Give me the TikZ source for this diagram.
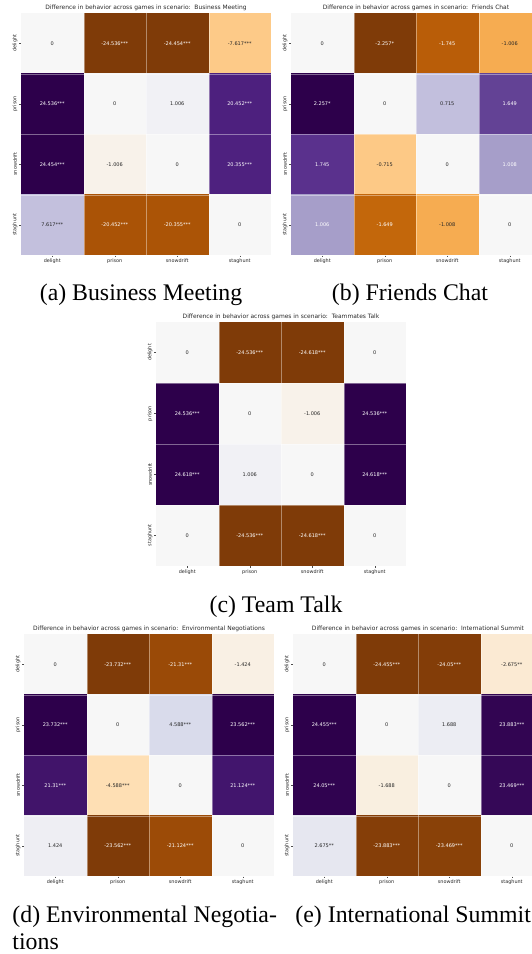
\documentclass[tikz,border=0pt]{standalone}
\usepackage{fontspec}
\setmainfont{Liberation Serif}
\newfontfamily\plotfont{DejaVu Sans}
\usetikzlibrary{positioning}

% PuOr colour steps
\definecolor{po0}{HTML}{7F3B08}
\definecolor{po1}{HTML}{B35806}
\definecolor{po2}{HTML}{E08214}
\definecolor{po3}{HTML}{FDB863}
\definecolor{po4}{HTML}{FEE0B6}
\definecolor{po5}{HTML}{F7F7F7}
\definecolor{po6}{HTML}{D8DAEB}
\definecolor{po7}{HTML}{B2ABD2}
\definecolor{po8}{HTML}{8073AC}
\definecolor{po9}{HTML}{542788}
\definecolor{po10}{HTML}{2D004B}
\colorlet{lt}{white}
\colorlet{dk}{black!85}

\tikzset{
  cell/.style={rectangle, inner sep=0pt, minimum width=26.25pt, minimum height=25.5pt,
    font=\plotfont\fontsize{2.1}{2.5}\selectfont},
  gridline/.style={draw=white, draw opacity=0.4, line width=0.35pt},
  title/.style={anchor=base, inner sep=0pt, text=dk, font=\plotfont\fontsize{2.5}{3}\selectfont},
  tick/.style={inner sep=0pt, text=dk, font=\plotfont\fontsize{2.05}{2.5}\selectfont},
  tickmark/.style={draw=black!70, line width=0.2pt},
  caption/.style={anchor=base, inner sep=0pt, font=\fontsize{10}{12}\selectfont},
}

\begin{document}
\begin{tikzpicture}[x={(0.42pt,0pt)}, y={(0pt,-0.42pt)}]

  \useasboundingbox (0,0) rectangle (531,954);

  % (a)
  \begin{scope}[shift={(21,13)}]
    \foreach \r/\c/\v/\f/\t in {
      1/1/0/po5/dk, 1/2/-24.536***/po0/lt, 1/3/-24.454***/po0/lt, 1/4/-7.617***/po4!45!po3/dk,
      2/1/24.536***/po10/lt, 2/2/0/po5/dk, 2/3/1.006/po6!20!po5/dk, 2/4/20.452***/po10!17!po9/lt,
      3/1/24.454***/po10/lt, 3/2/-1.006/po4!20!po5/dk, 3/3/0/po5/dk, 3/4/20.355***/po10!15!po9/lt,
      4/1/7.617***/po7!55!po6/dk, 4/2/-20.452***/po0!17!po1/lt, 4/3/-20.355***/po0!15!po1/lt, 4/4/0/po5/dk}
      \node[cell, fill=\f, text=\t] (a-\r-\c) at ({(\c-0.5)*62.5}, {(\r-0.5)*60.5}) {\v};
    \foreach \k in {1,2,3} {
      \path[gridline] (a-1-\k.north east) to (a-4-\k.south east);
      \path[gridline] (a-\k-1.south west) to (a-\k-4.south east);
    }
    \foreach \g [count=\k] in {delight, prison, snowdrift, staghunt} {
      \node[tick] (a-x\k) at ({(\k-0.5)*62.5}, 248) {\g};
      \node[tick, rotate=90] (a-y\k) at (-6, {(\k-0.5)*60.5}) {\g};
      \path[tickmark] (a-4-\k.south) to ++(0,1.5);
      \path[tickmark] (a-\k-1.west) to ++(-1.5,0);
    }
    \node[title] (a-title) at (125,-3.5) {Difference in behavior across games in scenario:\ \ Business Meeting};
  \end{scope}

  % (b)
  \begin{scope}[shift={(291,13)}]
    \foreach \r/\c/\v/\f/\t in {
      1/1/0/po5/dk, 1/2/-2.257*/po0/lt, 1/3/-1.745/po2!13!po1/lt, 1/4/-1.006/po3!77!po2/dk,
      2/1/2.257*/po10/lt, 2/2/0/po5/dk, 2/3/0.715/po7!58!po6/dk, 2/4/1.649/po9!65!po8/lt,
      3/1/1.745/po9!87!po8/lt, 3/2/-0.715/po4!42!po3/dk, 3/3/0/po5/dk, 3/4/1.008/po8!23!po7/lt,
      4/1/1.006/po8!23!po7/lt, 4/2/-1.649/po2!35!po1/lt, 4/3/-1.008/po3!77!po2/dk, 4/4/0/po5/dk}
      \node[cell, fill=\f, text=\t] (b-\r-\c) at ({(\c-0.5)*62.5}, {(\r-0.5)*60.5}) {\v};
    \foreach \k in {1,2,3} {
      \path[gridline] (b-1-\k.north east) to (b-4-\k.south east);
      \path[gridline] (b-\k-1.south west) to (b-\k-4.south east);
    }
    \foreach \g [count=\k] in {delight, prison, snowdrift, staghunt} {
      \node[tick] (b-x\k) at ({(\k-0.5)*62.5}, 248) {\g};
      \node[tick, rotate=90] (b-y\k) at (-6, {(\k-0.5)*60.5}) {\g};
      \path[tickmark] (b-4-\k.south) to ++(0,1.5);
      \path[tickmark] (b-\k-1.west) to ++(-1.5,0);
    }
    \node[title] (b-title) at (125,-3.5) {Difference in behavior across games in scenario:\ \ Friends Chat};
  \end{scope}

  % (c)
  \begin{scope}[shift={(156,322)}]
    \foreach \r/\c/\v/\f/\t in {
      1/1/0/po5/dk, 1/2/-24.536***/po0/lt, 1/3/-24.618***/po0/lt, 1/4/0/po5/dk,
      2/1/24.536***/po10/lt, 2/2/0/po5/dk, 2/3/-1.006/po4!20!po5/dk, 2/4/24.536***/po10/lt,
      3/1/24.618***/po10/lt, 3/2/1.006/po6!20!po5/dk, 3/3/0/po5/dk, 3/4/24.618***/po10/lt,
      4/1/0/po5/dk, 4/2/-24.536***/po0/lt, 4/3/-24.618***/po0/lt, 4/4/0/po5/dk}
      \node[cell, fill=\f, text=\t] (c-\r-\c) at ({(\c-0.5)*62.5}, {(\r-0.5)*61}) {\v};
    \foreach \k in {1,2,3} {
      \path[gridline] (c-1-\k.north east) to (c-4-\k.south east);
      \path[gridline] (c-\k-1.south west) to (c-\k-4.south east);
    }
    \foreach \g [count=\k] in {delight, prison, snowdrift, staghunt} {
      \node[tick] (c-x\k) at ({(\k-0.5)*62.5}, 250) {\g};
      \node[tick, rotate=90] (c-y\k) at (-6, {(\k-0.5)*61}) {\g};
      \path[tickmark] (c-4-\k.south) to ++(0,1.5);
      \path[tickmark] (c-\k-1.west) to ++(-1.5,0);
    }
    \node[title] (c-title) at (125,-3.5) {Difference in behavior across games in scenario:\ \ Teammates Talk};
  \end{scope}

  % (d)
  \begin{scope}[shift={(24,634)}]
    \foreach \r/\c/\v/\f/\t in {
      1/1/0/po5/dk, 1/2/-23.732***/po0/lt, 1/3/-21.31***/po1!51!po0/lt, 1/4/-1.424/po4!30!po5/dk,
      2/1/23.732***/po10/lt, 2/2/0/po5/dk, 2/3/4.588***/po6!97!po5/dk, 2/4/23.562***/po10/lt,
      3/1/21.31***/po10!49!po9/lt, 3/2/-4.588***/po4!97!po3/dk, 3/3/0/po5/dk, 3/4/21.124***/po10!45!po9/lt,
      4/1/1.424/po6!30!po5/dk, 4/2/-23.562***/po0/lt, 4/3/-21.124***/po1!55!po0/lt, 4/4/0/po5/dk}
      \node[cell, fill=\f, text=\t] (d-\r-\c) at ({(\c-0.5)*62.5}, {(\r-0.5)*60.5}) {\v};
    \foreach \k in {1,2,3} {
      \path[gridline] (d-1-\k.north east) to (d-4-\k.south east);
      \path[gridline] (d-\k-1.south west) to (d-\k-4.south east);
    }
    \foreach \g [count=\k] in {delight, prison, snowdrift, staghunt} {
      \node[tick] (d-x\k) at ({(\k-0.5)*62.5}, 248) {\g};
      \node[tick, rotate=90] (d-y\k) at (-6, {(\k-0.5)*60.5}) {\g};
      \path[tickmark] (d-4-\k.south) to ++(0,1.5);
      \path[tickmark] (d-\k-1.west) to ++(-1.5,0);
    }
    \node[title] (d-title) at (125,-3.5) {Difference in behavior across games in scenario:\ \ Environmental Negotiations};
  \end{scope}

  % (e)
  \begin{scope}[shift={(293,634)}]
    \foreach \r/\c/\v/\f/\t in {
      1/1/0/po5/dk, 1/2/-24.455***/po0/lt, 1/3/-24.05***/po1!8!po0/lt, 1/4/-2.675**/po5!45!po4/dk,
      2/1/24.455***/po10/lt, 2/2/0/po5/dk, 2/3/1.688/po6!35!po5/dk, 2/4/23.883***/po10!88!po9/lt,
      3/1/24.05***/po10!92!po9/lt, 3/2/-1.688/po4!35!po5/dk, 3/3/0/po5/dk, 3/4/23.469***/po10!80!po9/lt,
      4/1/2.675**/po6!55!po5/dk, 4/2/-23.883***/po1!12!po0/lt, 4/3/-23.469***/po1!20!po0/lt, 4/4/0/po5/dk}
      \node[cell, fill=\f, text=\t] (e-\r-\c) at ({(\c-0.5)*62.5}, {(\r-0.5)*60.5}) {\v};
    \foreach \k in {1,2,3} {
      \path[gridline] (e-1-\k.north east) to (e-4-\k.south east);
      \path[gridline] (e-\k-1.south west) to (e-\k-4.south east);
    }
    \foreach \g [count=\k] in {delight, prison, snowdrift, staghunt} {
      \node[tick] (e-x\k) at ({(\k-0.5)*62.5}, 248) {\g};
      \node[tick, rotate=90] (e-y\k) at (-6, {(\k-0.5)*60.5}) {\g};
      \path[tickmark] (e-4-\k.south) to ++(0,1.5);
      \path[tickmark] (e-\k-1.west) to ++(-1.5,0);
    }
    \node[title] (e-title) at (125,-3.5) {Difference in behavior across games in scenario:\ \ International Summit};
  \end{scope}

  % captions
  \node[caption] (a-cap) at (141,300) {(a) Business Meeting};
  \node[caption] (b-cap) at (410,300) {(b) Friends Chat};
  \node[caption] (c-cap) at (276,612) {(c) Team Talk};
  \node[caption, anchor=base west] (d-cap) at (12,922) {(d) Environmental Negotia-};
  \node[caption, anchor=base west] (d-cap2) at (12,949) {tions};
  \node[caption, anchor=base west] (e-cap) at (295,922) {(e) International Summit};

\end{tikzpicture}
\end{document}
